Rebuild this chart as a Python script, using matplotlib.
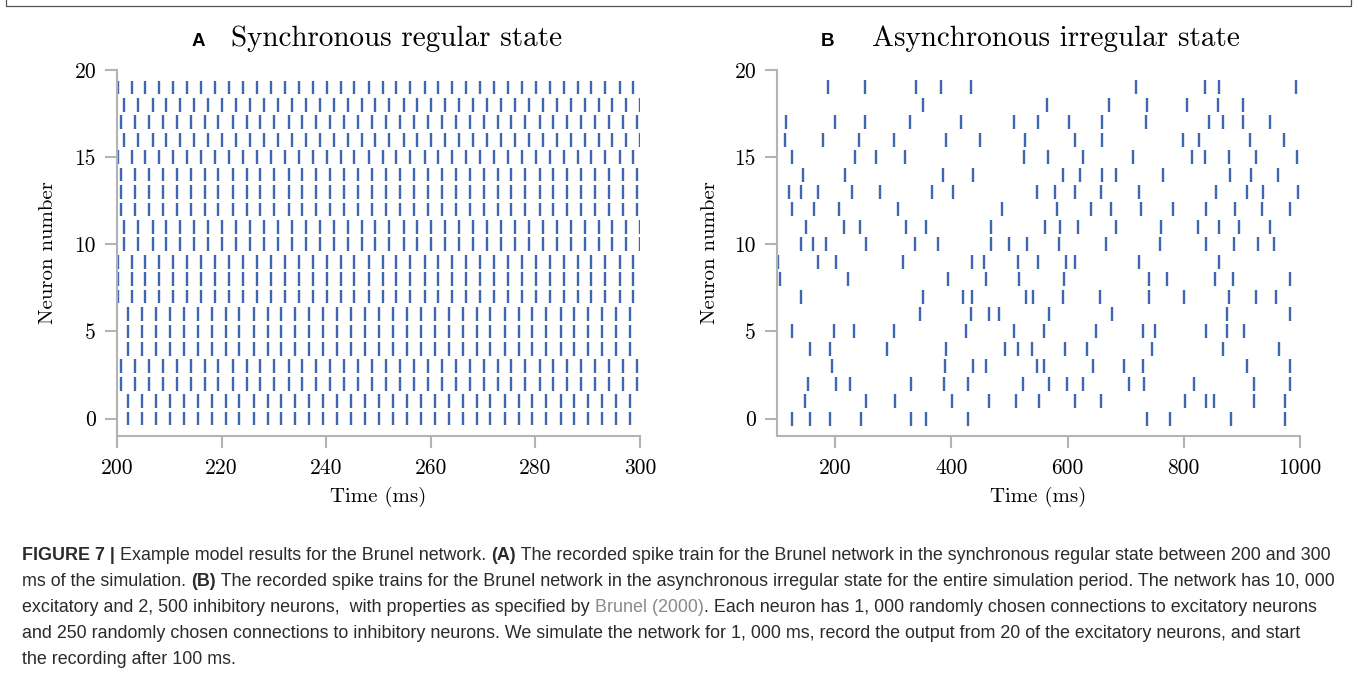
import matplotlib
matplotlib.use("Agg")
import matplotlib.pyplot as plt
from matplotlib.patches import Rectangle

W, H = 1358, 677

# Synchronous regular state: four phase groups of regular spike trains (ms)
SYNC_A = [200.1, 202.8, 205.4, 208.1, 210.8, 213.4, 216.1, 218.8, 221.4, 224.1,
          226.8, 229.4, 232.1, 234.8, 237.4, 240.1, 242.8, 245.4, 248.1, 250.8,
          253.4, 256.1, 258.8, 261.4, 264.1, 266.8, 269.4, 272.1, 274.8, 277.4,
          280.1, 282.8, 285.4, 288.1, 290.7, 293.4, 296.1, 298.7]
SYNC_B = [200.8, 203.4, 206.1, 208.8, 211.4, 214.1, 216.8, 219.4, 222.1, 224.8,
          227.4, 230.1, 232.8, 235.4, 238.1, 240.8, 243.4, 246.1, 248.8, 251.4,
          254.1, 256.8, 259.4, 262.1, 264.8, 267.4, 270.1, 272.8, 275.4, 278.1,
          280.8, 283.4, 286.1, 288.8, 291.4, 294.1, 296.8, 299.4]
SYNC_C = [201.4, 204.1, 206.8, 209.4, 212.1, 214.8, 217.4, 220.1, 222.8, 225.4,
          228.1, 230.8, 233.4, 236.1, 238.8, 241.4, 244.1, 246.8, 249.4, 252.1,
          254.8, 257.4, 260.1, 262.8, 265.4, 268.1, 270.8, 273.4, 276.1, 278.8,
          281.4, 284.1, 286.8, 289.4, 292.1, 294.7, 297.4, 300.0]
SYNC_D = [202.1, 204.8, 207.4, 210.1, 212.8, 215.4, 218.1, 220.8, 223.4, 226.1,
          228.8, 231.4, 234.1, 236.8, 239.4, 242.1, 244.8, 247.4, 250.1, 252.8,
          255.4, 258.1, 260.8, 263.4, 266.1, 268.8, 271.4, 274.1, 276.8, 279.4,
          282.1, 284.8, 287.4, 290.1, 292.7, 295.4, 298.1]
# group of each neuron 0..19
SYNC_GROUP = ["D", "D", "B", "B", "D", "D", "D", "A", "A", "A",
              "C", "C", "B", "B", "B", "A", "C", "B", "C", "A"]

# Asynchronous irregular state: spike times (ms) of neurons 0..19
ASYNC_SPIKES = [
    [125, 157, 192, 245, 330, 356, 428, 737, 776, 882, 974],
    [149, 254, 303, 401, 464, 511, 551, 613, 657, 802, 839, 852, 921, 974],
    [154, 201, 226, 331, 388, 428, 523, 568, 599, 626, 705, 731, 817, 920, 983],
    [194, 389, 437, 459, 547, 559, 643, 697, 729, 909, 983],
    [156, 191, 290, 391, 492, 515, 539, 595, 633, 746, 867, 964],
    [125, 198, 233, 301, 426, 508, 560, 649, 729, 751, 838, 874, 903],
    [346, 434, 465, 482, 568, 676, 874, 983],
    [142, 351, 420, 436, 529, 541, 593, 655, 741, 800, 878, 925, 959],
    [105, 223, 394, 459, 516, 594, 741, 771, 854, 884, 982],
    [102, 171, 202, 316, 436, 457, 514, 549, 598, 612, 723, 860],
    [141, 162, 184, 254, 337, 377, 468, 500, 530, 585, 667, 759, 839, 887, 927, 956],
    [150, 216, 243, 322, 357, 468, 562, 587, 618, 684, 761, 825, 860, 895, 949],
    [125, 164, 207, 308, 487, 582, 640, 675, 726, 782, 839, 889, 935, 982],
    [120, 141, 171, 229, 277, 366, 403, 548, 578, 613, 658, 723, 855, 908, 937, 997],
    [144, 217, 386, 437, 592, 622, 659, 683, 764, 879, 916, 962],
    [125, 234, 270, 320, 525, 567, 626, 712, 814, 836, 878, 925, 995],
    [113, 180, 241, 302, 390, 449, 527, 613, 659, 798, 826, 914, 973],
    [115, 199, 252, 329, 417, 507, 549, 602, 659, 735, 844, 867, 902, 948],
    [351, 564, 671, 736, 805, 859, 902],
    [188, 251, 340, 383, 433, 717, 837, 860, 993],
]

Y_TICKS = [0, 5, 10, 15, 20]
A_XTICKS = [200, 220, 240, 260, 280, 300]
B_XTICKS = [200, 400, 600, 800, 1000]

SPIKE = "#3f67b0"
GREY = "#b3b3b3"
TXT = "#2b2b2b"
SERIF = "cmr10"
SANS = "Liberation Sans"


def px(x, y):
    return x / W, 1 - y / H


fig = plt.figure(figsize=(W / 100, H / 100), dpi=100)
fig.patches.append(Rectangle(px(6, 6), (1351 - 6) / W, 1.2, transform=fig.transFigure,
                             fill=False, edgecolor="#555555", linewidth=0.9))


def style_axes(ax, xlim, xticks):
    ax.set_xlim(*xlim)
    ax.set_ylim(-1, 20)
    for s in ["top", "right"]:
        ax.spines[s].set_visible(False)
    for s in ["left", "bottom"]:
        ax.spines[s].set_color(GREY)
        ax.spines[s].set_linewidth(1.5)
    ax.set_xticks(xticks)
    ax.set_xticklabels([str(t) for t in xticks], family=SERIF, fontsize=15.5)
    ax.set_yticks(Y_TICKS)
    ax.set_yticklabels([str(t) for t in Y_TICKS], family=SERIF, fontsize=15.5)
    ax.tick_params(axis="both", direction="out", length=8.5, width=1.5, color=GREY)
    ax.tick_params(axis="x", pad=7.5)
    ax.tick_params(axis="y", pad=6.5)


# panel A
axA = fig.add_axes([117 / W, 1 - 436 / H, 523 / W, 366 / H])
groups = {"A": SYNC_A, "B": SYNC_B, "C": SYNC_C, "D": SYNC_D}
axA.eventplot([groups[g] for g in SYNC_GROUP], lineoffsets=list(range(20)),
              linelengths=0.78, linewidths=1.7, colors=SPIKE)
style_axes(axA, (200, 300), A_XTICKS)
axA.set_xlabel("Time (ms)", family=SERIF, fontsize=15, va="center")
axA.xaxis.set_label_coords(0.5, -0.167)
axA.set_ylabel("Neuron number", family=SERIF, fontsize=15, va="center")
axA.yaxis.set_label_coords(-0.132, 0.5)

# panel B
axB = fig.add_axes([777 / W, 1 - 436 / H, 523 / W, 366 / H])
axB.eventplot(ASYNC_SPIKES, lineoffsets=list(range(20)),
              linelengths=0.8, linewidths=1.7, colors=SPIKE)
style_axes(axB, (100, 1000), B_XTICKS)
axB.set_xlabel("Time (ms)", family=SERIF, fontsize=15, va="center")
axB.xaxis.set_label_coords(0.5, -0.167)
axB.set_ylabel("Neuron number", family=SERIF, fontsize=15, va="center")
axB.yaxis.set_label_coords(-0.128, 0.5)

# panel titles
fig.text(*px(192, 46), "A", family=SANS, fontweight="bold", fontsize=13.5, va="baseline")
fig.text(*px(231, 46), "Synchronous regular state", family=SERIF, fontsize=21, va="baseline")
fig.text(*px(821, 46), "B", family=SANS, fontweight="bold", fontsize=13.5, va="baseline")
fig.text(*px(872, 46), "Asynchronous irregular state", family=SERIF, fontsize=21, va="baseline")

# caption, drawn run by run so bold / grey parts sit inline
CAP_FS = 12.85
caption = [
    [("FIGURE 7 |", "bold", TXT), (" Example model results for the Brunel network. ", "normal", TXT),
     ("(A)", "bold", TXT),
     (" The recorded spike train for the Brunel network in the synchronous regular state between 200 and 300", "normal", TXT)],
    [("ms of the simulation. ", "normal", TXT), ("(B)", "bold", TXT),
     (" The recorded spike trains for the Brunel network in the asynchronous irregular state for the entire simulation period. The network has 10, 000", "normal", TXT)],
    [("excitatory and 2, 500 inhibitory neurons,  with properties as specified by ", "normal", TXT),
     ("Brunel (2000)", "normal", "#8a8a8a"),
     (". Each neuron has 1, 000 randomly chosen connections to excitatory neurons", "normal", TXT)],
    [("and 250 randomly chosen connections to inhibitory neurons. We simulate the network for 1, 000 ms, record the output from 20 of the excitatory neurons, and start", "normal", TXT)],
    [("the recording after 100 ms.", "normal", TXT)],
]
renderer = fig.canvas.get_renderer()


def run_width(s, weight):
    # measure with bar guards so leading/trailing spaces count
    t1 = fig.text(0, 0, "|" + s + "|", family=SANS, fontweight=weight, fontsize=CAP_FS)
    t2 = fig.text(0, 0, "||", family=SANS, fontweight=weight, fontsize=CAP_FS)
    w = t1.get_window_extent(renderer).width - t2.get_window_extent(renderer).width
    t1.remove()
    t2.remove()
    return w


for i, line in enumerate(caption):
    x = 22
    y = 560 + 26 * i
    for s, weight, col in line:
        fig.text(*px(x, y), s, family=SANS, fontweight=weight, fontsize=CAP_FS,
                 color=col, va="baseline", ha="left")
        x += run_width(s, weight)

fig.savefig("out.png", dpi=100)
